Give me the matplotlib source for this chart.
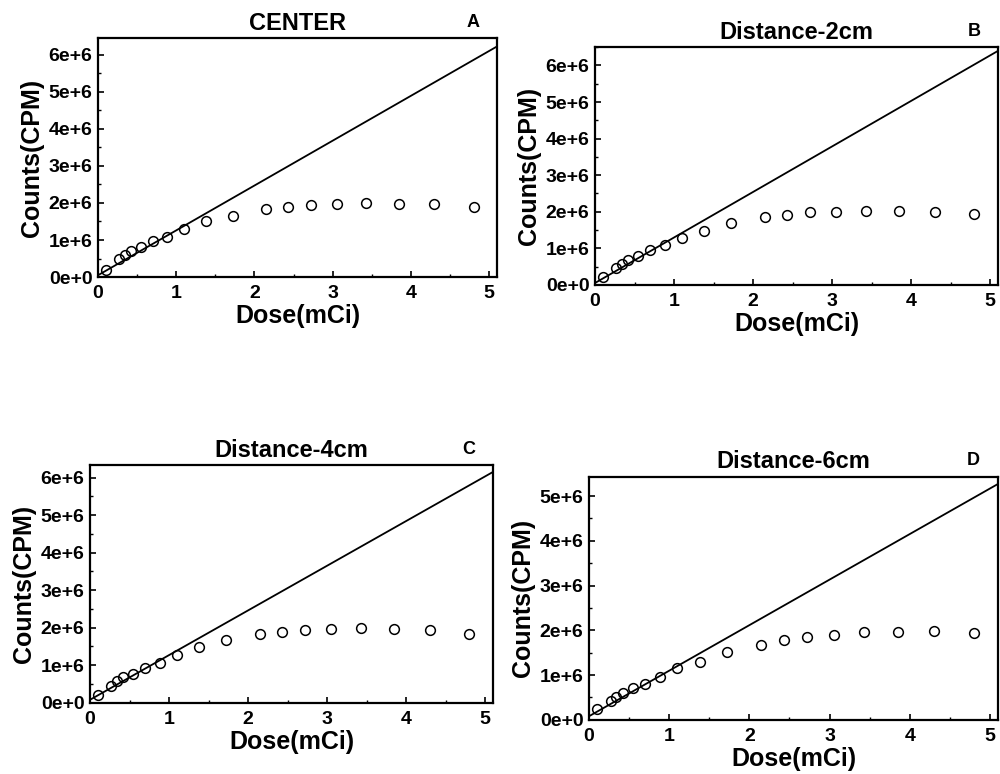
import matplotlib
matplotlib.use('Agg')
import matplotlib.pyplot as plt
from matplotlib.ticker import MultipleLocator, FuncFormatter

plt.rcParams['font.family'] = ['Liberation Sans', 'DejaVu Sans']
plt.rcParams['font.weight'] = 'bold'

# dose values (mCi), same for all panels
dose = [0.1, 0.27, 0.34, 0.42, 0.55, 0.7, 0.88, 1.1, 1.38, 1.72,
        2.15, 2.43, 2.72, 3.05, 3.43, 3.85, 4.3, 4.8]

# measured counts (CPM)
counts_a = [0.2e6, 0.5e6, 0.6e6, 0.7e6, 0.8e6, 0.98e6, 1.08e6, 1.3e6, 1.5e6, 1.65e6,
            1.83e6, 1.9e6, 1.94e6, 1.98e6, 2.0e6, 1.98e6, 1.96e6, 1.9e6]
counts_b = [0.21e6, 0.47e6, 0.57e6, 0.68e6, 0.79e6, 0.95e6, 1.09e6, 1.29e6, 1.48e6, 1.68e6,
            1.85e6, 1.91e6, 1.98e6, 1.98e6, 2.03e6, 2.01e6, 1.98e6, 1.93e6]
counts_c = [0.22e6, 0.46e6, 0.59e6, 0.68e6, 0.78e6, 0.94e6, 1.06e6, 1.26e6, 1.48e6, 1.66e6,
            1.83e6, 1.88e6, 1.93e6, 1.96e6, 1.98e6, 1.96e6, 1.94e6, 1.84e6]
counts_d = [0.24e6, 0.42e6, 0.5e6, 0.59e6, 0.7e6, 0.8e6, 0.96e6, 1.15e6, 1.3e6, 1.52e6,
            1.67e6, 1.78e6, 1.84e6, 1.9e6, 1.96e6, 1.96e6, 1.98e6, 1.93e6]

# linear (ideal) response lines: endpoints
line_x = [0, 5.1]
line_a = [0.05e6, 6.22e6]
line_b = [0.05e6, 6.4e6]
line_c = [0.08e6, 6.15e6]
line_d = [0.08e6, 5.27e6]

titles = ['CENTER', 'Distance-2cm', 'Distance-4cm', 'Distance-6cm']
letters = ['A', 'B', 'C', 'D']
ymaxes = [6.45e6, 6.5e6, 6.33e6, 5.43e6]
all_counts = [counts_a, counts_b, counts_c, counts_d]
all_lines = [line_a, line_b, line_c, line_d]

# axes rects [left, bottom, width, height]
rects = [[0.098, 0.642, 0.399, 0.309],
         [0.595, 0.632, 0.403, 0.307],
         [0.090, 0.092, 0.403, 0.307],
         [0.589, 0.070, 0.409, 0.314]]

fig = plt.figure(figsize=(10, 7.74), dpi=100)

for i in range(4):
    ax = fig.add_axes(rects[i])
    ax.plot(line_x, all_lines[i], color='black', lw=1.3)
    ax.plot(dose, all_counts[i], 'o', mfc='none', mec='black', ms=7, mew=1.1)
    ax.set_xlim(0, 5.1)
    ax.set_ylim(0, ymaxes[i])
    ax.xaxis.set_major_locator(MultipleLocator(1))
    ax.xaxis.set_minor_locator(MultipleLocator(0.5))
    ax.yaxis.set_major_locator(MultipleLocator(1e6))
    ax.yaxis.set_minor_locator(MultipleLocator(0.5e6))
    ax.yaxis.set_major_formatter(FuncFormatter(lambda v, p: f'{int(round(v / 1e6))}e+{6 if v > 0 else 0}'))
    ax.tick_params(which='both', direction='in', color='black')
    ax.tick_params(which='major', length=4, width=1.2, labelsize=14)
    ax.tick_params(axis='x', which='major', pad=6)
    ax.tick_params(axis='y', which='major', pad=4)
    ax.tick_params(which='minor', length=2.5, width=1)
    for s in ax.spines.values():
        s.set_linewidth(1.6)
    ax.set_xlabel('Dose(mCi)', fontsize=18, fontweight='bold', labelpad=1)
    ax.set_ylabel('Counts(CPM)', fontsize=18, fontweight='bold', labelpad=3)
    ax.set_title(titles[i], fontsize=17, fontweight='bold', pad=6)
    ax.text(0.94, 1.03, letters[i], transform=ax.transAxes, fontsize=13,
            fontweight='bold', ha='center', va='bottom')

plt.savefig('out.png', dpi=100)
